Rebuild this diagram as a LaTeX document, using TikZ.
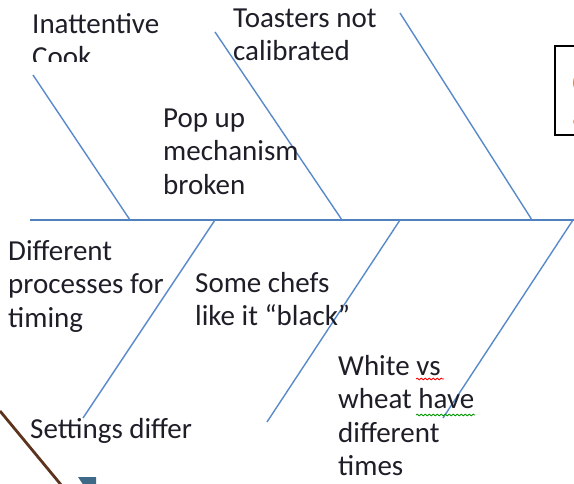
\documentclass[tikz,border=0pt]{standalone}
\usepackage{fontspec}
\setmainfont{Carlito}
\usetikzlibrary{decorations.pathmorphing}
\definecolor{bonec}{RGB}{88,138,202}
\definecolor{spinec}{RGB}{79,129,189}
\definecolor{txtc}{RGB}{30,30,40}
\definecolor{brownc}{RGB}{92,52,30}
\definecolor{tealc}{RGB}{62,105,135}
\definecolor{orangec}{RGB}{228,140,60}
\begin{document}
\begin{tikzpicture}[x=1pt,y=-1pt,
  lbl/.style={anchor=north west, inner sep=0pt, align=left,
    font=\fontsize{29}{33.5}\selectfont, text=txtc},
  bone/.style={draw=bonec, line width=1.4pt},
  spine/.style={draw=spinec, line width=1.8pt},
  squig/.style={decorate, decoration={snake, amplitude=0.9pt, segment length=4pt}, line width=0.8pt}]
\useasboundingbox (0,0) rectangle (574,484);
\clip (0,0) rectangle (574,484);
% spine
\coordinate (s0) at (30,220);
\coordinate (s1) at (580,220);
\draw[spine] (s0) -- (s1);
% upper bones
\coordinate (u1a) at (33,75);   \coordinate (u1b) at (130,220);
\coordinate (u2a) at (215,32);  \coordinate (u2b) at (342,220);
\coordinate (u3a) at (400,13);  \coordinate (u3b) at (532,220);
\draw[bone] (u1a) -- (u1b);
\draw[bone] (u2a) -- (u2b);
\draw[bone] (u3a) -- (u3b);
% lower bones
\coordinate (l1a) at (215,220); \coordinate (l1b) at (83,418);
\coordinate (l2a) at (400,220); \coordinate (l2b) at (267,422);
\coordinate (l3a) at (573,220); \coordinate (l3b) at (443,418);
\draw[bone] (l1a) -- (l1b);
\draw[bone] (l2a) -- (l2b);
\draw[bone] (l3a) -- (l3b);
% labels
\begin{scope}
\clip (0,0) rectangle (220,62);
\node[lbl] (cook) at (32,9.5) {\strut Inattentive\\Cook};
\end{scope}
\node[lbl] (toast) at (233,3.5) {\strut Toasters not\\calibrated};
\node[lbl] (pop) at (163,103.5) {\strut Pop up\\mechanism\\broken};
\node[lbl] (proc) at (8,236.5) {\strut Different\\processes for\\timing};
\node[lbl] (chefs) at (195,268.5) {\strut Some chefs\\like it “black”};
\node[lbl] (white) at (338,351.5) {\strut White vs\\wheat have\\different\\times};
\node[lbl] (sett) at (30,414.5) {\strut Settings differ};
% spell-check squiggles
\draw[squig, red] (416,379) -- (444,379);
\draw[squig, green!60!black] (416,415) -- (475,415);
% box at right
\draw[black, line width=1.8pt] (555,46) rectangle (590,135);
\node[lbl, text=orangec] (boxt) at (572,68.5) {\strut C\\a};
% brown line and teal shape
\draw[brownc, line width=2.8pt] (0,411) -- (62,486);
\fill[tealc] (78,477) -- (96,477) -- (96,486) -- (84,486) -- cycle;
\end{tikzpicture}
\end{document}
